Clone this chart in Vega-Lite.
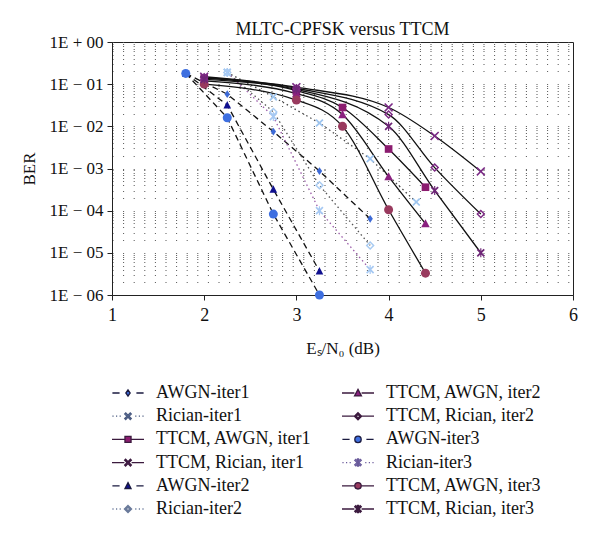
{
  "$schema": "https://vega.github.io/schema/vega-lite/v6.json",
  "width": 461,
  "height": 253,
  "autosize": {"type": "none"},
  "padding": {"left": 112, "top": 42, "right": 27, "bottom": 244},
  "background": "white",
  "title": {"text": "MLTC-CPFSK versus TTCM", "font": "Liberation Serif", "fontSize": 18, "fontWeight": "normal", "color": "#111", "offset": -6, "frame": "group"},
  "config": {
    "view": {"stroke": "#222", "strokeWidth": 1},
    "font": "Liberation Serif"
  },
  "data": {"values": [
    {"series": "AWGN-iter1", "x": 1.8, "ber": 0.18},
    {"series": "AWGN-iter1", "x": 2.25, "ber": 0.058},
    {"series": "AWGN-iter1", "x": 2.75, "ber": 0.0075},
    {"series": "AWGN-iter1", "x": 3.25, "ber": 0.00087},
    {"series": "AWGN-iter1", "x": 3.8, "ber": 0.000064},
    {"series": "Rician-iter1", "x": 2.25, "ber": 0.19},
    {"series": "Rician-iter1", "x": 2.75, "ber": 0.05},
    {"series": "Rician-iter1", "x": 3.25, "ber": 0.012},
    {"series": "Rician-iter1", "x": 3.8, "ber": 0.0017},
    {"series": "Rician-iter1", "x": 4.3, "ber": 0.00016},
    {"series": "TTCM, AWGN, iter1", "x": 2, "ber": 0.14},
    {"series": "TTCM, AWGN, iter1", "x": 3, "ber": 0.07},
    {"series": "TTCM, AWGN, iter1", "x": 3.5, "ber": 0.028},
    {"series": "TTCM, AWGN, iter1", "x": 4, "ber": 0.0029},
    {"series": "TTCM, AWGN, iter1", "x": 4.4, "ber": 0.00036},
    {"series": "TTCM, Rician, iter1", "x": 2, "ber": 0.15},
    {"series": "TTCM, Rician, iter1", "x": 3, "ber": 0.085},
    {"series": "TTCM, Rician, iter1", "x": 4, "ber": 0.028},
    {"series": "TTCM, Rician, iter1", "x": 4.5, "ber": 0.0059},
    {"series": "TTCM, Rician, iter1", "x": 5, "ber": 0.00085},
    {"series": "AWGN-iter2", "x": 1.8, "ber": 0.18},
    {"series": "AWGN-iter2", "x": 2.25, "ber": 0.032},
    {"series": "AWGN-iter2", "x": 2.75, "ber": 0.00032},
    {"series": "AWGN-iter2", "x": 3.25, "ber": 0.0000037},
    {"series": "Rician-iter2", "x": 2.25, "ber": 0.19},
    {"series": "Rician-iter2", "x": 2.75, "ber": 0.022},
    {"series": "Rician-iter2", "x": 3.25, "ber": 0.0004},
    {"series": "Rician-iter2", "x": 3.8, "ber": 0.000015},
    {"series": "TTCM, AWGN, iter2", "x": 2, "ber": 0.12},
    {"series": "TTCM, AWGN, iter2", "x": 3, "ber": 0.06},
    {"series": "TTCM, AWGN, iter2", "x": 3.5, "ber": 0.019},
    {"series": "TTCM, AWGN, iter2", "x": 4, "ber": 0.00064},
    {"series": "TTCM, AWGN, iter2", "x": 4.4, "ber": 0.000049},
    {"series": "TTCM, Rician, iter2", "x": 2, "ber": 0.145},
    {"series": "TTCM, Rician, iter2", "x": 3, "ber": 0.08},
    {"series": "TTCM, Rician, iter2", "x": 4, "ber": 0.019},
    {"series": "TTCM, Rician, iter2", "x": 4.5, "ber": 0.00105},
    {"series": "TTCM, Rician, iter2", "x": 5, "ber": 0.000083},
    {"series": "AWGN-iter3", "x": 1.8, "ber": 0.18},
    {"series": "AWGN-iter3", "x": 2.25, "ber": 0.016},
    {"series": "AWGN-iter3", "x": 2.75, "ber": 0.000083},
    {"series": "AWGN-iter3", "x": 3.25, "ber": 0.000001},
    {"series": "Rician-iter3", "x": 2.25, "ber": 0.19},
    {"series": "Rician-iter3", "x": 2.75, "ber": 0.017},
    {"series": "Rician-iter3", "x": 3.25, "ber": 0.0001},
    {"series": "Rician-iter3", "x": 3.8, "ber": 0.000004},
    {"series": "TTCM, AWGN, iter3", "x": 2, "ber": 0.1},
    {"series": "TTCM, AWGN, iter3", "x": 3, "ber": 0.042},
    {"series": "TTCM, AWGN, iter3", "x": 3.5, "ber": 0.01},
    {"series": "TTCM, AWGN, iter3", "x": 4, "ber": 0.000105},
    {"series": "TTCM, AWGN, iter3", "x": 4.4, "ber": 0.0000033},
    {"series": "TTCM, Rician, iter3", "x": 2, "ber": 0.13},
    {"series": "TTCM, Rician, iter3", "x": 3, "ber": 0.075},
    {"series": "TTCM, Rician, iter3", "x": 4, "ber": 0.01},
    {"series": "TTCM, Rician, iter3", "x": 4.5, "ber": 0.0003},
    {"series": "TTCM, Rician, iter3", "x": 5, "ber": 0.00001}
  ]},
  "encoding": {
    "x": {
      "field": "x", "type": "quantitative",
      "scale": {"domain": [1, 6], "nice": false, "zero": false},
      "title": "Eₛ/N₀ (dB)",
      "axis": {
        "values": [1, 2, 3, 4, 5, 6], "grid": false, "tickSize": 5, "tickColor": "#222", "domainColor": "#222",
        "labelFont": "Liberation Serif", "labelFontSize": 18, "labelColor": "#111", "labelPadding": 6, "labelFlush": false,
        "titleFont": "Liberation Serif", "titleFontSize": 17, "titleFontWeight": "normal", "titleColor": "#111", "titlePadding": 16
      }
    },
    "y": {
      "field": "ber", "type": "quantitative",
      "scale": {"type": "log", "domain": [0.000001, 1], "nice": false},
      "title": "BER",
      "axis": {
        "values": [0.000001, 0.000002, 0.000003, 0.000004, 0.000005, 0.000006, 0.000007, 0.000008, 0.000009,
                   0.00001, 0.00002, 0.00003, 0.00004, 0.00005, 0.00006, 0.00007, 0.00008, 0.00009,
                   0.0001, 0.0002, 0.0003, 0.0004, 0.0005, 0.0006, 0.0007, 0.0008, 0.0009,
                   0.001, 0.002, 0.003, 0.004, 0.005, 0.006, 0.007, 0.008, 0.009,
                   0.01, 0.02, 0.03, 0.04, 0.05, 0.06, 0.07, 0.08, 0.09,
                   0.1, 0.2, 0.3, 0.4, 0.5, 0.6, 0.7, 0.8, 0.9, 1],
        "labelExpr": "abs(log(datum.value)/LN10 - round(log(datum.value)/LN10)) < 0.001 ? '1E ' + (datum.value >= 0.999 ? '+ ' : '− ') + '0' + abs(round(log(datum.value)/LN10)) : ''",
        "labelOverlap": false, "labelFlush": false,
        "tickSize": 5, "tickColor": "#222", "domainColor": "#222",
        "tickOpacity": {"condition": {"test": "abs(log(datum.value)/LN10 - round(log(datum.value)/LN10)) < 0.001", "value": 1}, "value": 0},
        "grid": true, "gridColor": "#555", "gridDash": [1, 9.6], "gridWidth": 1,
        "labelFont": "Liberation Serif", "labelFontSize": 17, "labelColor": "#111", "labelPadding": 4,
        "titleFont": "Liberation Serif", "titleFontSize": 17, "titleFontWeight": "normal", "titleColor": "#111", "titlePadding": 11
      }
    }
  },
  "layer": [
    {
      "transform": [{"filter": "false"}],
      "mark": {"type": "point", "filled": true, "opacity": 1},
      "encoding": {
        "fill": {
          "field": "series", "type": "nominal", "title": null,
          "scale": {
            "domain": ["AWGN-iter1", "Rician-iter1", "TTCM, AWGN, iter1", "TTCM, Rician, iter1", "AWGN-iter2", "Rician-iter2", "TTCM, AWGN, iter2", "TTCM, Rician, iter2", "AWGN-iter3", "Rician-iter3", "TTCM, AWGN, iter3", "TTCM, Rician, iter3"],
            "range": ["#3d6ad6", "#9ec5ef", "#8b1c6f", "#7b2a86", "#10108f", "#a8cbf2", "#8a207f", "#7d2a84", "#3e6fe0", "#a6c9f3", "#993a5e", "#6e2677"]
          },
          "legend": {"orient": "none", "legendX": 7, "legendY": 342, "columns": 2, "columnPadding": 27, "rowPadding": 5.2, "padding": 0, "symbolSize": 256, "symbolStrokeWidth": 1.3, "symbolOpacity": 1, "labelFont": "Liberation Serif", "labelFontSize": 18, "labelColor": "#111", "labelOffset": 19, "labelLimit": 400}
        },
        "shape": {
          "field": "series", "type": "nominal", "title": null,
          "scale": {
            "domain": ["AWGN-iter1", "Rician-iter1", "TTCM, AWGN, iter1", "TTCM, Rician, iter1", "AWGN-iter2", "Rician-iter2", "TTCM, AWGN, iter2", "TTCM, Rician, iter2", "AWGN-iter3", "Rician-iter3", "TTCM, AWGN, iter3", "TTCM, Rician, iter3"],
            "range": [
              "M-1.95,0H-1.05M1.05,0H1.95M0,-0.38L0.27,0L0,0.38L-0.27,0Z",
              "M-1.95,0H-1.8M-1.5,0H-1.35M-1.05,0H-0.9M0.9,0H1.05M1.35,0H1.5M1.8,0H1.95M-0.41,-0.28L-0.28,-0.41L0,-0.12L0.28,-0.41L0.41,-0.28L0.12,0L0.41,0.28L0.28,0.41L0,0.12L-0.28,0.41L-0.41,0.28L-0.12,0Z",
              "M-2,0H-0.4M0.4,0H2M-0.38,-0.38H0.38V0.38H-0.38Z",
              "M-2,0H-0.45M0.45,0H2M-0.42,-0.3L-0.3,-0.42L0,-0.12L0.3,-0.42L0.42,-0.3L0.12,0L0.42,0.3L0.3,0.42L0,0.12L-0.3,0.42L-0.42,0.3L-0.12,0Z",
              "M-1.95,0H-1.05M1.05,0H1.95M0,-0.4L0.38,0.34L-0.38,0.34Z",
              "M-1.95,0H-1.8M-1.5,0H-1.35M-1.05,0H-0.9M0.9,0H1.05M1.35,0H1.5M1.8,0H1.95M0,-0.45L0.45,0L0,0.45L-0.45,0ZM0,-0.22L-0.22,0L0,0.22L0.22,0Z",
              "M-2,0H-0.45M0.45,0H2M0,-0.45L0.43,0.36L-0.43,0.36Z",
              "M-2,0H-0.45M0.45,0H2M0,-0.45L0.45,0L0,0.45L-0.45,0ZM0,-0.22L-0.22,0L0,0.22L0.22,0Z",
              "M-1.95,0H-1.05M1.05,0H1.95M0.4,0A0.4,0.4,0,1,1,-0.4,0A0.4,0.4,0,1,1,0.4,0Z",
              "M-1.95,0H-1.8M-1.5,0H-1.35M-1.05,0H-0.9M0.9,0H1.05M1.35,0H1.5M1.8,0H1.95M-0.41,-0.28L-0.28,-0.41L0,-0.12L0.28,-0.41L0.41,-0.28L0.12,0L0.41,0.28L0.28,0.41L0,0.12L-0.28,0.41L-0.41,0.28L-0.12,0ZM-0.06,-0.45L0.06,-0.45L0.06,0.45L-0.06,0.45Z",
              "M-2,0H-0.45M0.45,0H2M0.4,0A0.4,0.4,0,1,1,-0.4,0A0.4,0.4,0,1,1,0.4,0Z",
              "M-2,0H-0.45M0.45,0H2M-0.41,-0.28L-0.28,-0.41L0,-0.12L0.28,-0.41L0.41,-0.28L0.12,0L0.41,0.28L0.28,0.41L0,0.12L-0.28,0.41L-0.41,0.28L-0.12,0ZM-0.06,-0.45L0.06,-0.45L0.06,0.45L-0.06,0.45Z"
            ]
          },
          "legend": {"orient": "none", "legendX": 7, "legendY": 342, "columns": 2, "columnPadding": 27, "rowPadding": 5.2, "padding": 0, "symbolSize": 256, "symbolStrokeWidth": 1.3, "symbolOpacity": 1, "labelFont": "Liberation Serif", "labelFontSize": 18, "labelColor": "#111", "labelOffset": 19, "labelLimit": 400}
        },
        "stroke": {
          "field": "series", "type": "nominal", "title": null,
          "scale": {
            "domain": ["AWGN-iter1", "Rician-iter1", "TTCM, AWGN, iter1", "TTCM, Rician, iter1", "AWGN-iter2", "Rician-iter2", "TTCM, AWGN, iter2", "TTCM, Rician, iter2", "AWGN-iter3", "Rician-iter3", "TTCM, AWGN, iter3", "TTCM, Rician, iter3"],
            "range": ["#1a1a40", "#4a5a80", "#3b1a3e", "#3b1a3e", "#1a1a40", "#6a7a9a", "#3b1a3e", "#3b1a3e", "#1a1a40", "#6a5a9a", "#3b1a3e", "#3b1a3e"]
          },
          "legend": {"orient": "none", "legendX": 7, "legendY": 342, "columns": 2, "columnPadding": 27, "rowPadding": 5.2, "padding": 0, "symbolSize": 256, "symbolStrokeWidth": 1.3, "symbolOpacity": 1, "labelFont": "Liberation Serif", "labelFontSize": 18, "labelColor": "#111", "labelOffset": 19, "labelLimit": 400}
        }
      }
    },
    {
      "transform": [{"filter": "indexof(datum.series, 'TTCM') < 0"}],
      "mark": {"type": "line", "strokeWidth": 1.3},
      "encoding": {
        "stroke": {
          "field": "series", "type": "nominal", "legend": null,
          "scale": {
            "domain": ["AWGN-iter1", "Rician-iter1", "AWGN-iter2", "Rician-iter2", "AWGN-iter3", "Rician-iter3"],
            "range": ["#111111", "#444444", "#111111", "#555555", "#111111", "#9a5aa8"]
          }
        },
        "strokeDash": {
          "field": "series", "type": "nominal", "legend": null,
          "scale": {
            "domain": ["AWGN-iter1", "Rician-iter1", "AWGN-iter2", "Rician-iter2", "AWGN-iter3", "Rician-iter3"],
            "range": [[6, 4], [1.5, 3], [6, 4], [1.5, 3], [6, 4], [1.5, 3]]
          }
        }
      }
    },
    {
      "transform": [{"filter": "indexof(datum.series, 'TTCM') >= 0"}],
      "mark": {"type": "line", "strokeWidth": 1.3, "interpolate": "monotone", "color": "#111111"},
      "encoding": {
        "detail": {"field": "series", "type": "nominal"}
      }
    },
    {
      "mark": {"type": "point", "filled": true, "opacity": 1, "size": 81, "strokeWidth": 0},
      "encoding": {
        "fill": {
          "field": "series", "type": "nominal", "legend": null,
          "scale": {
            "domain": ["AWGN-iter1", "Rician-iter1", "TTCM, AWGN, iter1", "TTCM, Rician, iter1", "AWGN-iter2", "Rician-iter2", "TTCM, AWGN, iter2", "TTCM, Rician, iter2", "AWGN-iter3", "Rician-iter3", "TTCM, AWGN, iter3", "TTCM, Rician, iter3"],
            "range": ["#3d6ad6", "#9ec5ef", "#8b1c6f", "#7b2a86", "#10108f", "#a8cbf2", "#8a207f", "#7d2a84", "#3e6fe0", "#a6c9f3", "#993a5e", "#6e2677"]
          }
        },
        "shape": {
          "field": "series", "type": "nominal", "legend": null,
          "scale": {
            "domain": ["AWGN-iter1", "Rician-iter1", "TTCM, AWGN, iter1", "TTCM, Rician, iter1", "AWGN-iter2", "Rician-iter2", "TTCM, AWGN, iter2", "TTCM, Rician, iter2", "AWGN-iter3", "Rician-iter3", "TTCM, AWGN, iter3", "TTCM, Rician, iter3"],
            "range": [
              "M0,-0.85L0.6,0L0,0.85L-0.6,0Z",
              "M-0.9,-0.63L-0.63,-0.9L0,-0.27L0.63,-0.9L0.9,-0.63L0.27,0L0.9,0.63L0.63,0.9L0,0.27L-0.63,0.9L-0.9,0.63L-0.27,0Z",
              "M-0.85,-0.85H0.85V0.85H-0.85Z",
              "M-1,-0.75L-0.75,-1L0,-0.25L0.75,-1L1,-0.75L0.25,0L1,0.75L0.75,1L0,0.25L-0.75,1L-1,0.75L-0.25,0Z",
              "M0,-0.9L0.85,0.75L-0.85,0.75Z",
              "M0,-1L1,0L0,1L-1,0ZM0,-0.55L-0.55,0L0,0.55L0.55,0Z",
              "M0,-1L0.95,0.8L-0.95,0.8Z",
              "M0,-1L1,0L0,1L-1,0ZM0,-0.55L-0.55,0L0,0.55L0.55,0Z",
              "circle",
              "M-0.9,-0.63L-0.63,-0.9L0,-0.27L0.63,-0.9L0.9,-0.63L0.27,0L0.9,0.63L0.63,0.9L0,0.27L-0.63,0.9L-0.9,0.63L-0.27,0ZM-0.13,-1L0.13,-1L0.13,1L-0.13,1Z",
              "circle",
              "M-0.9,-0.63L-0.63,-0.9L0,-0.27L0.63,-0.9L0.9,-0.63L0.27,0L0.9,0.63L0.63,0.9L0,0.27L-0.63,0.9L-0.9,0.63L-0.27,0ZM-0.13,-1L0.13,-1L0.13,1L-0.13,1Z"
            ]
          }
        }
      }
    }
  ],
  "resolve": {"scale": {"fill": "independent", "shape": "independent", "stroke": "independent", "strokeDash": "independent"}}
}
